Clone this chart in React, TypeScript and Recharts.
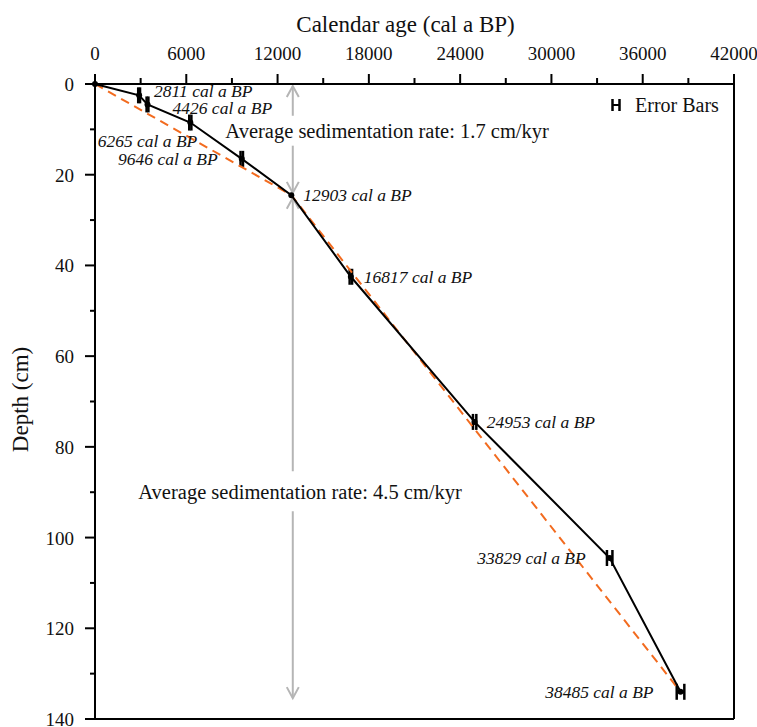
import React from "react";
import {
  ComposedChart,
  Scatter,
  XAxis,
  YAxis,
  ErrorBar,
  ReferenceLine,
  ReferenceDot,
  Legend,
} from "recharts";

const SERIF = "'Liberation Serif', 'Times New Roman', serif";
const GRAY = "#b5b5b5";
const ORANGE = "#f26b1f";

// dated levels (age in cal a BP, depth in cm)
const AGES = [0, 2900, 3450, 6265, 9646, 12903, 16817, 24953, 33829, 38485];
const DEPTHS = [0, 2.5, 4.5, 8.5, 16.5, 24.5, 42.5, 74.5, 104.5, 134];
const AGE_ERRORS = [0, 60, 60, 70, 80, 0, 80, 110, 180, 250];
const LABELS = [
  "",
  "2811 cal a BP",
  "4426 cal a BP",
  "6265 cal a BP",
  "9646 cal a BP",
  "12903 cal a BP",
  "16817 cal a BP",
  "24953 cal a BP",
  "33829 cal a BP",
  "38485 cal a BP",
];

// average-rate trend line
const TREND_AGES = [0, 12903, 38485];
const TREND_DEPTHS = [0, 24.5, 134];

const X_TICKS = [0, 3000, 6000, 9000, 12000, 15000, 18000, 21000, 24000, 27000, 30000, 33000, 36000, 39000, 42000];
const Y_TICKS = [0, 10, 20, 30, 40, 50, 60, 70, 80, 90, 100, 110, 120, 130, 140];

// gray arrows (age, depth pieces) and their texts
const ARROW_AGE = 13000;
const ARROW_PIECES: [number, number, "start" | "end"][] = [
  [0.45, 7, "start"],
  [13.6, 24, "end"],
  [25.1, 85.4, "start"],
  [94.2, 135.4, "end"],
];
const RATE_TEXTS = [
  "Average sedimentation rate: 1.7 cm/kyr",
  "Average sedimentation rate: 4.5 cm/kyr",
];
const RATE_AGES = [19200, 13480];
const RATE_DEPTHS = [10.3, 90];

// label placement relative to each point (px)
const LABEL_POS: ({ dx: number; dy: number; anchor: "start" | "end" } | null)[] = [
  null,
  { dx: 15, dy: -4, anchor: "start" },
  { dx: 25, dy: 4, anchor: "start" },
  { dx: 7, dy: 18, anchor: "end" },
  { dx: -24, dy: 0, anchor: "end" },
  { dx: 12, dy: 0, anchor: "start" },
  { dx: 13, dy: 0, anchor: "start" },
  { dx: 12, dy: 0, anchor: "start" },
  { dx: -24, dy: 0, anchor: "end" },
  { dx: -27, dy: 0, anchor: "end" },
];

const points = AGES.map((age, i) => ({ i, age, depth: DEPTHS[i], err: AGE_ERRORS[i] }));
const trend = TREND_AGES.map((age, i) => ({ age, depth: TREND_DEPTHS[i] }));

const PointShape = (p: any) => {
  const i = p.payload.i;
  const pos = LABEL_POS[i];
  return (
    <g>
      <circle cx={p.cx} cy={p.cy} r={3} fill="#000" />
      {pos && (
        <text
          x={p.cx + pos.dx}
          y={p.cy + pos.dy + 6}
          textAnchor={pos.anchor}
          fontStyle="italic"
          fontSize={17.5}
          fontFamily={SERIF}
          fill="#111"
        >
          {LABELS[i]}
        </text>
      )}
    </g>
  );
};

const arrowShape = (head: "start" | "end") => (p: any) => {
  const { x1, y1, x2, y2 } = p;
  const hx = head === "start" ? x1 : x2;
  const hy = head === "start" ? y1 : y2;
  const d = head === "start" ? 1 : -1;
  return (
    <g stroke={GRAY} strokeWidth={2} fill="none">
      <line x1={x1} y1={y1} x2={x2} y2={y2} />
      <polyline points={`${hx - 6},${hy + d * 11} ${hx},${hy} ${hx + 6},${hy + d * 11}`} />
    </g>
  );
};

const XTick = (p: any) => {
  const v = p.payload.value;
  const major = v % 6000 === 0;
  return (
    <g>
      <line x1={p.x} x2={p.x} y1={p.y} y2={p.y - (major ? 10 : 6)} stroke="#000" strokeWidth={2} />
      {major && (
        <text x={p.x} y={p.y - 24} textAnchor="middle" fontSize={19} fontFamily={SERIF} fill="#111">
          {v}
        </text>
      )}
    </g>
  );
};

const YTick = (p: any) => {
  const v = p.payload.value;
  const major = v % 20 === 0;
  return (
    <g>
      <line x1={p.x} x2={p.x - (major ? 10 : 5)} y1={p.y} y2={p.y} stroke="#000" strokeWidth={2} />
      {major && (
        <text x={p.x - 21} y={p.y + 7} textAnchor="end" fontSize={19} fontFamily={SERIF} fill="#111">
          {v}
        </text>
      )}
    </g>
  );
};

const XTitle = (p: any) => {
  const vb = p.viewBox;
  return (
    <text x={vb.x + vb.width / 2 - 9} y={vb.y + 32} textAnchor="middle" fontSize={23} fontFamily={SERIF} fill="#111">
      Calendar age (cal a BP)
    </text>
  );
};

const YTitle = (p: any) => {
  const vb = p.viewBox;
  const cy = vb.y + vb.height / 2 - 2;
  return (
    <text
      x={28}
      y={cy}
      transform={`rotate(-90, 28, ${cy})`}
      textAnchor="middle"
      fontSize={23}
      fontFamily={SERIF}
      fill="#111"
    >
      Depth (cm)
    </text>
  );
};

const LegendBox = () => (
  <div style={{ display: "flex", alignItems: "center", fontFamily: SERIF, fontSize: 20, lineHeight: "20px", color: "#111" }}>
    <svg width={10} height={12} style={{ marginRight: 14 }}>
      <line x1={1.5} x2={1.5} y1={0} y2={12} stroke="#000" strokeWidth={2.5} />
      <line x1={8.5} x2={8.5} y1={0} y2={12} stroke="#000" strokeWidth={2.5} />
      <line x1={1.5} x2={8.5} y1={6} y2={6} stroke="#000" strokeWidth={2} />
    </svg>
    <span>Error Bars</span>
  </div>
);

export default function App() {
  return (
    <div style={{ position: "absolute", left: 0, top: 0, background: "#fff" }}>
      <ComposedChart width={757} height={727} margin={{ top: 0, right: 23, bottom: 8, left: 0 }}>
        <XAxis
          type="number"
          dataKey="age"
          orientation="top"
          domain={[0, 42000]}
          ticks={X_TICKS}
          height={84}
          tickSize={0}
          tickMargin={0}
          tickLine={false}
          tick={<XTick />}
          axisLine={{ stroke: "#000", strokeWidth: 2 }}
          label={XTitle}
          interval={0}
        />
        <YAxis
          type="number"
          dataKey="depth"
          domain={[0, 140]}
          reversed
          ticks={Y_TICKS}
          width={95}
          tickSize={0}
          tickMargin={0}
          tickLine={false}
          tick={<YTick />}
          axisLine={{ stroke: "#000", strokeWidth: 2 }}
          label={YTitle}
          interval={0}
        />
        <ReferenceLine x={42000} stroke="#000" strokeWidth={2} />
        <ReferenceLine y={140} stroke="#000" strokeWidth={2} />
        {ARROW_PIECES.map(([d1, d2, head], k) => (
          <ReferenceLine
            key={k}
            segment={[
              { x: ARROW_AGE, y: d1 },
              { x: ARROW_AGE, y: d2 },
            ]}
            shape={arrowShape(head)}
          />
        ))}
        {RATE_TEXTS.map((t, k) => (
          <ReferenceDot
            key={t}
            x={RATE_AGES[k]}
            y={RATE_DEPTHS[k]}
            r={0}
            fill="none"
            stroke="none"
            label={{ value: t, position: "center", fontSize: 20.5, fontFamily: SERIF, fill: "#111" }}
          />
        ))}
        <Scatter
          data={trend}
          dataKey="depth"
          line={{ stroke: ORANGE, strokeWidth: 2, strokeDasharray: "9 6" }}
          shape={() => <g />}
          isAnimationActive={false}
        />
        <Scatter
          data={points}
          dataKey="depth"
          line={{ stroke: "#000", strokeWidth: 2 }}
          shape={PointShape}
          isAnimationActive={false}
        >
          <ErrorBar dataKey="err" direction="x" width={8} stroke="#000" strokeWidth={2.5} isAnimationActive={false} />
        </Scatter>
        <Legend
          layout="horizontal"
          verticalAlign="middle"
          align="center"
          content={<LegendBox />}
          wrapperStyle={{ position: "absolute", left: 611, top: 95, width: "auto", height: "auto" }}
        />
      </ComposedChart>
    </div>
  );
}
